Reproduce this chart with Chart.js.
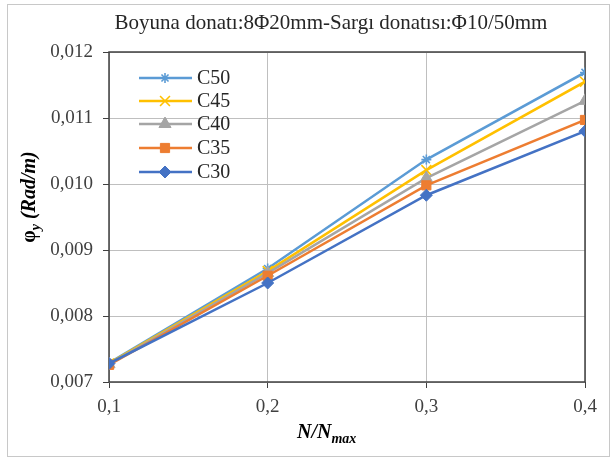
<!DOCTYPE html>
<html>
<head>
<meta charset="utf-8">
<script src="https://cdn.jsdelivr.net/npm/chart.js@4.4.0/dist/chart.umd.min.js"></script>
<style>
  html, body { margin: 0; padding: 0; background: #fff; }
  canvas { display: block; }
</style>
</head>
<body>
<canvas id="chart" width="611" height="459"></canvas>
<script>
// N/Nmax values on the x axis
const ratios = [0.1, 0.2, 0.3, 0.4];

// curvature at yield, Rad/m
const c50 = [0.00729, 0.00872, 0.01037, 0.01169];
const c45 = [0.00728, 0.00868, 0.01021, 0.01155];
const c40 = [0.00727, 0.00865, 0.01009, 0.01126];
const c35 = [0.00726, 0.00861, 0.00998, 0.01097];
const c30 = [0.00728, 0.00850, 0.00983, 0.01080];

const seriesNames = ['C50', 'C45', 'C40', 'C35', 'C30'];
const yTicks = [0.007, 0.008, 0.009, 0.010, 0.011, 0.012];

const serif = "'Liberation Serif', 'Times New Roman', serif";

function pts(vals) {
    return vals.map((v, i) => ({x: ratios[i], y: v}));
}

const styles = [
    {color: '#5b9bd5', point: 'star', r: 5},
    {color: '#ffc000', point: 'crossRot', r: 7},
    {color: '#a5a5a5', point: 'triangle', r: 7},
    {color: '#ed7d31', point: 'rect', r: 6.5},
    {color: '#4472c4', point: 'rectRot', r: 6}
];
const allValues = [c50, c45, c40, c35, c30];

const datasets = allValues.map((vals, i) => ({
    label: seriesNames[i],
    data: pts(vals),
    borderColor: styles[i].color,
    backgroundColor: styles[i].color,
    borderWidth: 2.5,
    pointStyle: styles[i].point,
    pointRadius: styles[i].r,
    pointHoverRadius: styles[i].r,
    pointBorderWidth: (styles[i].point === 'star' || styles[i].point === 'crossRot') ? 1.6 : 1,
    order: 5 - i,
    tension: 0
}));

const decorations = {
    id: 'decorations',
    beforeDatasetsDraw(chart) {
        const ctx = chart.ctx;
        const a = chart.chartArea;
        ctx.save();
        ctx.strokeStyle = '#404040';
        ctx.lineWidth = 1.5;
        ctx.strokeRect(a.left, a.top, a.right - a.left, a.bottom - a.top);
        ctx.restore();
    },
    afterDraw(chart) {
        const ctx = chart.ctx;
        ctx.save();
        // outer border
        ctx.strokeStyle = '#c8c8c8';
        ctx.lineWidth = 1;
        ctx.strokeRect(7.5, 4.5, 602, 452);

        // title
        ctx.fillStyle = '#262626';
        ctx.font = '21px ' + serif;
        ctx.textAlign = 'center';
        ctx.textBaseline = 'middle';
        ctx.fillText('Boyuna donatı:8Φ20mm-Sargı donatısı:Φ10/50mm', 331, 23);

        // x title N/Nmax
        ctx.textAlign = 'left';
        ctx.textBaseline = 'alphabetic';
        ctx.fillStyle = '#000';
        ctx.font = 'bold italic 20px ' + serif;
        let x = 297;
        ctx.fillText('N/N', x, 438);
        x += ctx.measureText('N/N').width;
        ctx.font = 'bold italic 14px ' + serif;
        ctx.fillText('max', x, 443);

        // y title φy (Rad/m)
        ctx.translate(35, 197);
        ctx.rotate(-Math.PI / 2);
        const parts = [
            {t: 'φ', f: 'bold 20px ', dy: 0},
            {t: 'y', f: 'bold italic 14px ', dy: 5},
            {t: ' (Rad/m)', f: 'bold italic 20px ', dy: 0}
        ];
        let total = 0;
        parts.forEach(p => { ctx.font = p.f + serif; total += ctx.measureText(p.t).width; });
        let px = -total / 2;
        parts.forEach(p => {
            ctx.font = p.f + serif;
            ctx.fillText(p.t, px, p.dy);
            px += ctx.measureText(p.t).width;
        });
        ctx.restore();

        // legend
        ctx.save();
        const rowY = [78, 101, 124, 148, 172];
        chart.data.datasets.forEach((ds, i) => {
            const y = rowY[i];
            ctx.strokeStyle = ds.borderColor;
            ctx.fillStyle = ds.backgroundColor;
            ctx.lineWidth = 2.5;
            ctx.beginPath();
            ctx.moveTo(139, y);
            ctx.lineTo(192, y);
            ctx.stroke();
            ctx.lineWidth = ds.pointBorderWidth;
            Chart.helpers.drawPoint(ctx, {
                pointStyle: ds.pointStyle,
                radius: ds.pointRadius,
                rotation: 0,
                borderWidth: ds.pointBorderWidth
            }, 165, y);
            ctx.fillStyle = '#262626';
            ctx.font = '20px ' + serif;
            ctx.textAlign = 'left';
            ctx.textBaseline = 'middle';
            ctx.fillText(ds.label, 197, y + 1);
        });
        ctx.restore();
    }
};

new Chart(document.getElementById('chart').getContext('2d'), {
    type: 'line',
    data: {datasets: datasets},
    options: {
        responsive: false,
        animation: false,
        layout: {padding: {left: 0, top: 52, right: 26, bottom: 0}},
        scales: {
            x: {
                type: 'linear',
                min: 0.1,
                max: 0.4,
                afterFit(scale) { scale.height = 77; },
                afterBuildTicks(scale) { scale.ticks = ratios.map(v => ({value: v})); },
                ticks: {
                    color: '#404040',
                    font: {family: serif, size: 19},
                    padding: 8,
                    callback: v => v.toFixed(1).replace('.', ',')
                },
                grid: {color: '#bfbfbf', lineWidth: 1, tickColor: '#404040', tickLength: 6},
                border: {display: false}
            },
            y: {
                min: 0.007,
                max: 0.012,
                afterFit(scale) { scale.width = 109; },
                afterBuildTicks(scale) { scale.ticks = yTicks.map(v => ({value: v})); },
                ticks: {
                    color: '#404040',
                    font: {family: serif, size: 19},
                    padding: 10,
                    callback: v => v.toFixed(3).replace('.', ',')
                },
                grid: {color: '#bfbfbf', lineWidth: 1, tickColor: '#404040', tickLength: 6},
                border: {display: false}
            }
        },
        plugins: {
            legend: {display: false},
            tooltip: {enabled: false}
        }
    },
    plugins: [decorations]
});
</script>
</body>
</html>
